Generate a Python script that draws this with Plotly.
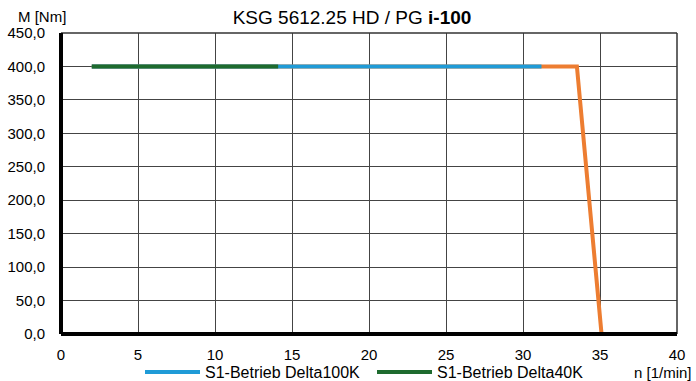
import plotly.graph_objects as go

# data
orange_x = [2, 33.5, 35.1]
orange_y = [400, 400, 0]
blue_x = [2, 31.2]
blue_y = [400, 400]
green_x = [2, 14.1]
green_y = [400, 400]

y_ticks = [0, 50, 100, 150, 200, 250, 300, 350, 400, 450]
y_labels = ["0,0", "50,0", "100,0", "150,0", "200,0", "250,0", "300,0", "350,0", "400,0", "450,0"]
x_ticks = [0, 5, 10, 15, 20, 25, 30, 35, 40]

W, H = 696, 381

fig = go.Figure()
fig.add_trace(go.Scatter(x=orange_x, y=orange_y, mode="lines",
                         line=dict(color="#ED7D31", width=4), showlegend=False))
fig.add_trace(go.Scatter(x=blue_x, y=blue_y, mode="lines", name="S1-Betrieb Delta100K",
                         line=dict(color="#1F9BD7", width=4)))
fig.add_trace(go.Scatter(x=green_x, y=green_y, mode="lines", name="S1-Betrieb Delta40K",
                         line=dict(color="#1E6B2E", width=4)))

fig.update_layout(
    width=W, height=H,
    paper_bgcolor="white", plot_bgcolor="white",
    margin=dict(l=61, r=19, t=33, b=47, autoexpand=False),
    font=dict(family="Liberation Sans, Arial, sans-serif", size=15, color="black"),
    title=dict(text="KSG 5612.25 HD / PG <b>i-100</b>", x=352 / W, xanchor="center",
               y=1 - 17 / H, yref="container", yanchor="middle", font=dict(size=19)),
    showlegend=True,
    legend=dict(orientation="h", x=140 / W, xref="container", xanchor="left",
                y=9 / H, yref="container", yanchor="middle",
                font=dict(size=16), bgcolor="rgba(0,0,0,0)", itemwidth=55,
                entrywidth=162, entrywidthmode="pixels", tracegroupgap=0),
    xaxis=dict(range=[0, 40], tickvals=x_ticks, showgrid=True, gridcolor="#444444",
               gridwidth=1, zeroline=False, showline=False, automargin=False,
               ticks="outside", ticklen=7, tickcolor="rgba(0,0,0,0)",
               tickfont=dict(size=15), fixedrange=True),
    yaxis=dict(range=[0, 450], tickvals=y_ticks, ticktext=y_labels, showgrid=True,
               gridcolor="#444444", gridwidth=1, zeroline=False, showline=False,
               automargin=False, ticks="outside", ticklen=12, tickcolor="rgba(0,0,0,0)",
               tickfont=dict(size=15), fixedrange=True),
    shapes=[
        dict(type="line", xref="paper", yref="paper", x0=0, x1=1, y0=1, y1=1,
             line=dict(color="#333333", width=1.5)),
        dict(type="line", xref="paper", yref="paper", x0=1, x1=1, y0=0, y1=1,
             line=dict(color="#333333", width=1.5)),
        dict(type="line", xref="paper", yref="paper", x0=0, x1=0, y0=0, y1=1,
             line=dict(color="black", width=4)),
        dict(type="line", xref="paper", yref="paper", x0=0, x1=1, y0=0, y1=0,
             line=dict(color="black", width=4)),
    ],
    annotations=[
        dict(text="M [Nm]", xref="paper", yref="paper", x=-0.031, y=1.0, yshift=17,
             xanchor="center", yanchor="middle", showarrow=False, font=dict(size=15)),
        dict(text="n [1/min]", xref="paper", yref="paper", x=1.0276, y=0, yshift=-38,
             xanchor="right", yanchor="middle", showarrow=False, font=dict(size=15)),
    ],
)

fig.write_html("out.html", config={"displayModeBar": False},
               post_script="document.body.style.margin='0px';")
